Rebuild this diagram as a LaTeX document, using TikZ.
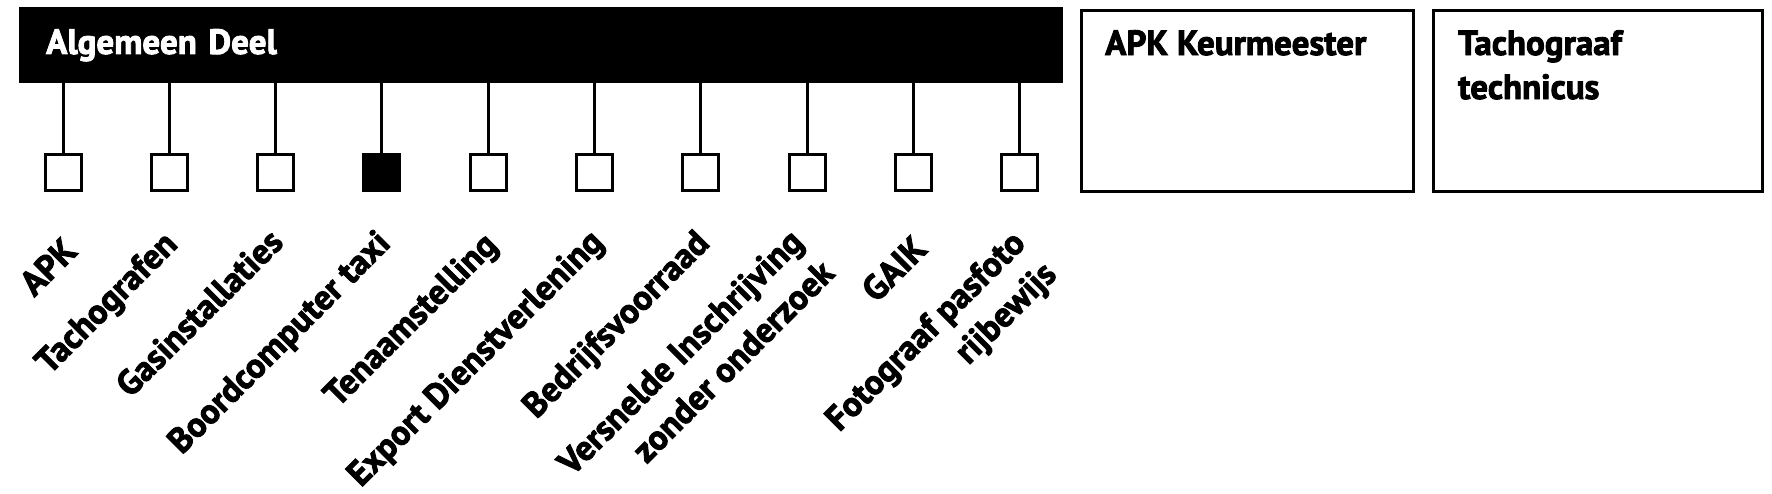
\documentclass[tikz,border=0pt]{standalone}
\usepackage{fontspec}
\setmainfont{PT Sans}[BoldFeatures={FakeBold=2.5}]
\begin{document}
\begin{tikzpicture}[x=1pt,y=-1pt,
  every node/.style={font=\bfseries\fontsize{35}{44}\selectfont, inner sep=0pt},
  bar/.style={fill=black, draw=none, text=white, minimum width=1044pt, minimum height=76pt, text width=990pt, align=left, anchor=north west},
  sq/.style={draw=black, line width=3pt, fill=white, minimum size=36pt, inner sep=0pt},
  sqfill/.style={sq, fill=black},
  conn/.style={line width=3pt},
  lbl/.style={rotate=45, anchor=base east},
  panel/.style={draw=black, line width=3pt, anchor=north west, minimum height=181pt},
  ptext/.style={anchor=base west}
]
\useasboundingbox (0,0) rectangle (1772,493);
\node[bar] (ad) at (19,7) {Algemeen Deel};
\node[sq] (s1) at (63,172.5) {};
\node[sq] (s2) at (169.3,172.5) {};
\node[sq] (s3) at (275.6,172.5) {};
\node[sqfill] (s4) at (381.9,172.5) {};
\node[sq] (s5) at (488.2,172.5) {};
\node[sq] (s6) at (594.5,172.5) {};
\node[sq] (s7) at (700.8,172.5) {};
\node[sq] (s8) at (807.1,172.5) {};
\node[sq] (s9) at (913.4,172.5) {};
\node[sq] (s10) at (1019.7,172.5) {};
\foreach \i in {1,...,10} \draw[conn] (ad.south -| s\i.north) -- (s\i.north);
\node[lbl] (l1) at (79,253) {APK};
\node[lbl] (l2) at (179,246) {Tachografen};
\node[lbl] (l3) at (285,244) {Gasinstallaties};
\node[lbl] (l4) at (392,245) {Boordcomputer taxi};
\node[lbl] (l5) at (499,247) {Tenaamstelling};
\node[lbl] (l6) at (605,244) {Export Dienstverlening};
\node[lbl] (l7) at (711,245) {Bedrijfsvoorraad};
\node[lbl] (l8) at (805,244) {\begin{tabular}[t]{@{}r@{}}Versnelde Inschrijving\\zonder onderzoek\end{tabular}};
\node[lbl] (l9) at (929,251) {GAIK};
\node[lbl] (l10) at (1027,245) {\begin{tabular}[t]{@{}r@{}}Fotograaf pasfoto\\rijbewijs\end{tabular}};
\node[panel, minimum width=332pt] (k1) at (1079.5,8.5) {};
\node[ptext] (k1t) at (1105,55) {APK Keurmeester};
\node[panel, minimum width=329pt] (k2) at (1431.5,8.5) {};
\node[ptext] (k2t) at (1458,55) {\begin{tabular}[t]{@{}l@{}}Tachograaf\\technicus\end{tabular}};
\end{tikzpicture}
\end{document}
